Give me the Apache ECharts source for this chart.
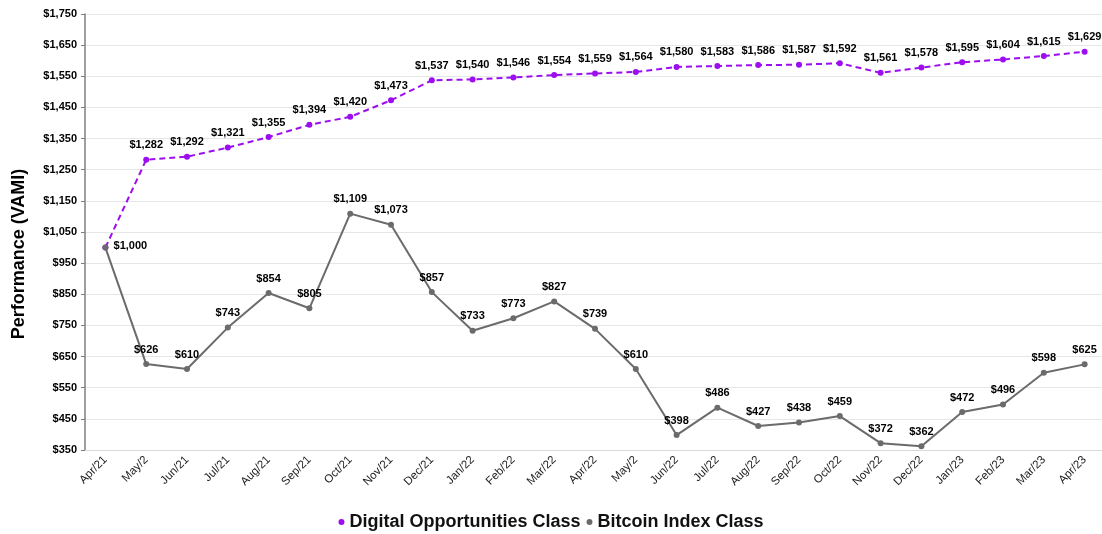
<!DOCTYPE html>
<html>
<head>
<meta charset="utf-8">
<script src="https://cdn.jsdelivr.net/npm/echarts@6/dist/echarts.min.js"></script>
<style>
html,body{margin:0;padding:0;background:#fff;}
#chart{width:1102px;height:534px;}
</style>
</head>
<body>
<div id="chart"></div>
<script>
const categories = ['Apr/21','May/2','Jun/21','Jul/21','Aug/21','Sep/21','Oct/21','Nov/21','Dec/21','Jan/22','Feb/22','Mar/22','Apr/22','May/2','Jun/22','Jul/22','Aug/22','Sep/22','Oct/22','Nov/22','Dec/22','Jan/23','Feb/23','Mar/23','Apr/23'];
const digitalValues = [1000,1282,1292,1321,1355,1394,1420,1473,1537,1540,1546,1554,1559,1564,1580,1583,1586,1587,1592,1561,1578,1595,1604,1615,1629];
const bitcoinValues = [1000,626,610,743,854,805,1109,1073,857,733,773,827,739,610,398,486,427,438,459,372,362,472,496,598,625];
const seriesNames = ['Digital Opportunities Class','Bitcoin Index Class'];
const yAxisTitle = 'Performance (VAMI)';

const fmt = v => '$' + Math.round(v).toLocaleString('en-US');
const FONT = '"Liberation Sans", Arial, sans-serif';
const PURPLE = '#9C0DF0';
const GRAY = '#6B6B6B';

const chart = echarts.init(document.getElementById('chart'));
chart.setOption({
  animation: false,
  textStyle: { fontFamily: FONT },
  grid: { left: 85, right: -3, top: 14, bottom: 84, containLabel: false, outerBoundsMode: 'none' },
  graphic: [{
    type: 'text',
    x: 19, y: 254,
    rotation: Math.PI / 2,
    style: {
      text: yAxisTitle,
      fontFamily: FONT, fontSize: 18, fontWeight: 'bold', fill: '#000',
      align: 'center', verticalAlign: 'middle'
    }
  }],
  legend: {
    bottom: -2, left: 'center',
    itemWidth: 6, itemHeight: 6, itemGap: 6,
    icon: 'circle',
    textStyle: { fontFamily: FONT, fontSize: 18, fontWeight: 'bold', color: '#111' },
    data: seriesNames
  },
  xAxis: {
    type: 'category',
    data: categories,
    boundaryGap: true,
    axisLine: { show: true, lineStyle: { color: '#d9d9d9' } },
    axisTick: { show: false },
    axisLabel: { rotate: 45, fontFamily: FONT, fontSize: 11.5, color: '#222', interval: 0, margin: 8 }
  },
  yAxis: {
    type: 'value',
    min: 350, max: 1750, interval: 100,
    axisLine: { show: true, lineStyle: { color: '#7f7f7f', width: 1.5 } },
    axisTick: { show: true, length: 4, lineStyle: { color: '#7f7f7f' } },
    axisLabel: { formatter: fmt, fontFamily: FONT, fontSize: 11, fontWeight: 'bold', color: '#000', margin: 8 },
    splitLine: { show: true, lineStyle: { color: '#e6e6e6' } }
  },
  series: [
    {
      name: seriesNames[0],
      type: 'line',
      data: digitalValues,
      symbol: 'circle', symbolSize: 6,
      itemStyle: { color: PURPLE },
      lineStyle: { color: PURPLE, width: 2, type: [6, 4] },
      label: {
        show: true, position: 'top', distance: 6,
        fontFamily: FONT, fontSize: 11, fontWeight: 'bold', color: '#000',
        formatter: p => p.dataIndex === 0 ? '' : fmt(p.value)
      },
      z: 2
    },
    {
      name: seriesNames[1],
      type: 'line',
      data: bitcoinValues,
      symbol: 'circle', symbolSize: 6,
      itemStyle: { color: GRAY },
      lineStyle: { color: GRAY, width: 2 },
      label: {
        show: true, position: 'top', distance: 6,
        fontFamily: FONT, fontSize: 11, fontWeight: 'bold', color: '#000',
        formatter: p => fmt(p.value)
      },
      labelLayout: p => p.dataIndex === 0 ? { dx: 25, dy: 13 } : {},
      z: 3
    }
  ]
});
</script>
</body>
</html>
